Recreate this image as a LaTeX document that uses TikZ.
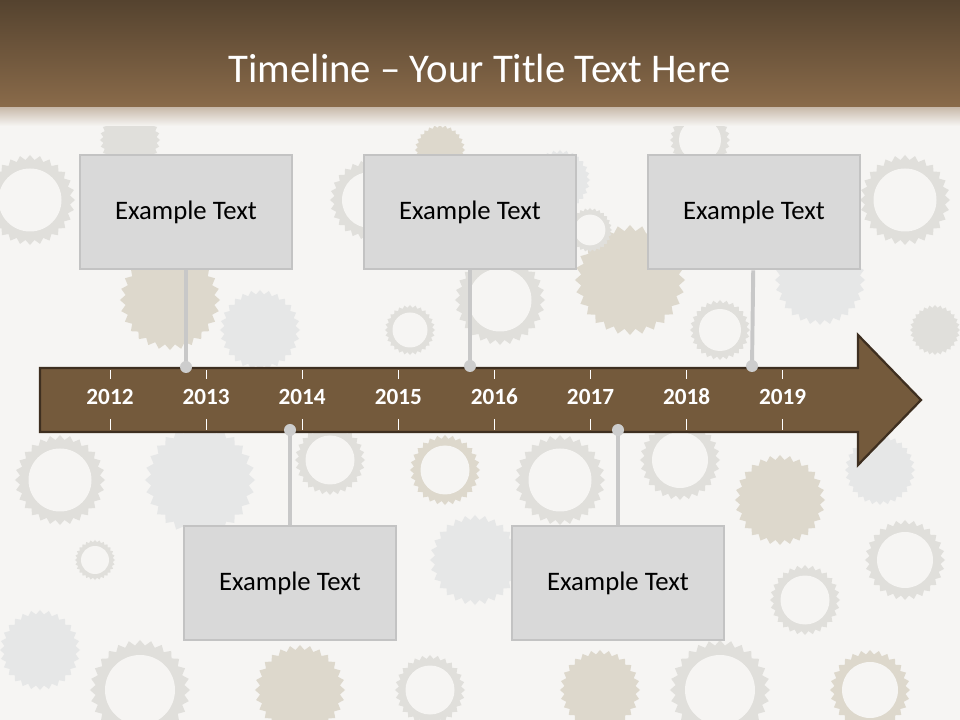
\documentclass[tikz,border=0pt]{standalone}
\usepackage{fontspec}
\setmainfont{Carlito}
\usetikzlibrary{shapes.geometric}

\definecolor{bgpaper}{HTML}{F6F5F3}
\definecolor{bartop}{HTML}{55432F}
\definecolor{barbot}{HTML}{8A6B4A}
\definecolor{arrowfill}{HTML}{745A3C}
\definecolor{arrowline}{HTML}{3E2F20}
\definecolor{boxfill}{HTML}{D9D9D9}
\definecolor{boxline}{HTML}{C3C3C3}
\definecolor{stemgrey}{HTML}{C8C8C8}
\definecolor{gearA}{HTML}{E0DFDB}
\definecolor{gearB}{HTML}{DDD8CC}
\definecolor{gearC}{HTML}{E6E7E7}

\tikzset{
  cog/.style={star, star points=28, star point ratio=1.12, inner sep=0pt, draw=none},
  textbox/.style={draw=boxline, line width=2pt, fill=boxfill, minimum width=5.3cm,
    minimum height=2.85cm, font=\fontsize{19}{23}\selectfont},
  stem/.style={draw=stemgrey, line width=2.8pt},
  pin/.style={circle, fill=stemgrey!90!white, inner sep=0pt, minimum size=0.3cm},
  year/.style={text=white, font=\bfseries\fontsize{16.5}{19}\selectfont},
  tick/.style={draw=white, line width=0.6pt}
}

\begin{document}
\begin{tikzpicture}[x=0.025cm, y=-0.025cm]
  \useasboundingbox (0,0) rectangle (960,720);
  \fill[bgpaper] (0,0) rectangle (960,720);

  % faint gears in the background
  \begin{scope}
    \clip (0,124) rectangle (960,720);
    \foreach \gx/\gy/\gr/\gc/\gk in {
      30/200/45/gearA/1, 130/140/30/gearA/0, 170/300/50/gearB/0, 260/330/40/gearC/0,
      370/200/40/gearA/1, 440/150/25/gearB/0, 500/300/45/gearA/1, 560/180/30/gearC/0,
      630/280/55/gearB/0, 700/140/30/gearA/1, 720/330/30/gearA/1, 820/280/45/gearC/0,
      905/200/45/gearA/1, 935/330/25/gearA/0, 60/480/45/gearA/1, 95/560/20/gearA/1,
      40/650/40/gearC/0, 140/690/50/gearA/1, 200/480/55/gearC/0, 330/460/35/gearA/1,
      355/590/40/gearA/1, 300/690/45/gearB/0, 445/470/35/gearB/1, 475/560/45/gearC/0,
      430/690/35/gearA/1, 560/480/45/gearA/1, 600/690/40/gearB/0, 680/460/40/gearA/1,
      780/500/45/gearB/0, 805/600/35/gearA/1, 880/470/35/gearC/0, 905/560/40/gearA/1,
      720/690/50/gearA/1, 870/690/40/gearB/1, 410/330/25/gearA/1, 590/230/22/gearA/1}{
      \node[cog, fill=\gc, minimum size=\gr*0.05cm] at (\gx,\gy) {};
      \ifnum\gk=1 \fill[bgpaper] (\gx,\gy) circle[radius=0.7*\gr]; \fi
    }
  \end{scope}

  % title bar
  \shade[top color=bartop, bottom color=barbot] (0,0) rectangle (960,108);
  \shade[top color=barbot!45!white, bottom color=bgpaper] (0,108) rectangle (960,126);
  \node[text=white, font=\fontsize{29}{34}\selectfont] (title) at (480,68) {Timeline – Your Title Text Here};

  % timeline arrow
  \draw[arrowline, fill=arrowfill, line width=1.6pt, line join=miter]
    (40,368) -- (858,368) -- (858,335) -- (921,400) -- (858,465) -- (858,432) -- (40,432) -- cycle;
  \foreach \yr [count=\i from 0] in {2012,...,2019} {
    \node[year] (y\yr) at (110+96.1*\i,397) {\yr};
    \draw[tick] (110+96.1*\i,370) -- ++(0,9);
    \draw[tick] (110+96.1*\i,419) -- ++(0,11);
  }

  % event boxes
  \node[textbox] (e1) at (186,212) {Example Text};
  \node[textbox] (e2) at (470,212) {Example Text};
  \node[textbox] (e3) at (754,212) {Example Text};
  \node[textbox] (e4) at (290,583) {Example Text};
  \node[textbox] (e5) at (618,583) {Example Text};

  \coordinate (c1) at (186,367);
  \coordinate (c2) at (470,366);
  \coordinate (c3) at (752,366);
  \coordinate (c4) at (290,430);
  \coordinate (c5) at (618,430);
  \foreach \k in {1,...,5} {
    \draw[stem] (e\k) -- (c\k);
    \node[pin] (p\k) at (c\k) {};
  }
\end{tikzpicture}
\end{document}
